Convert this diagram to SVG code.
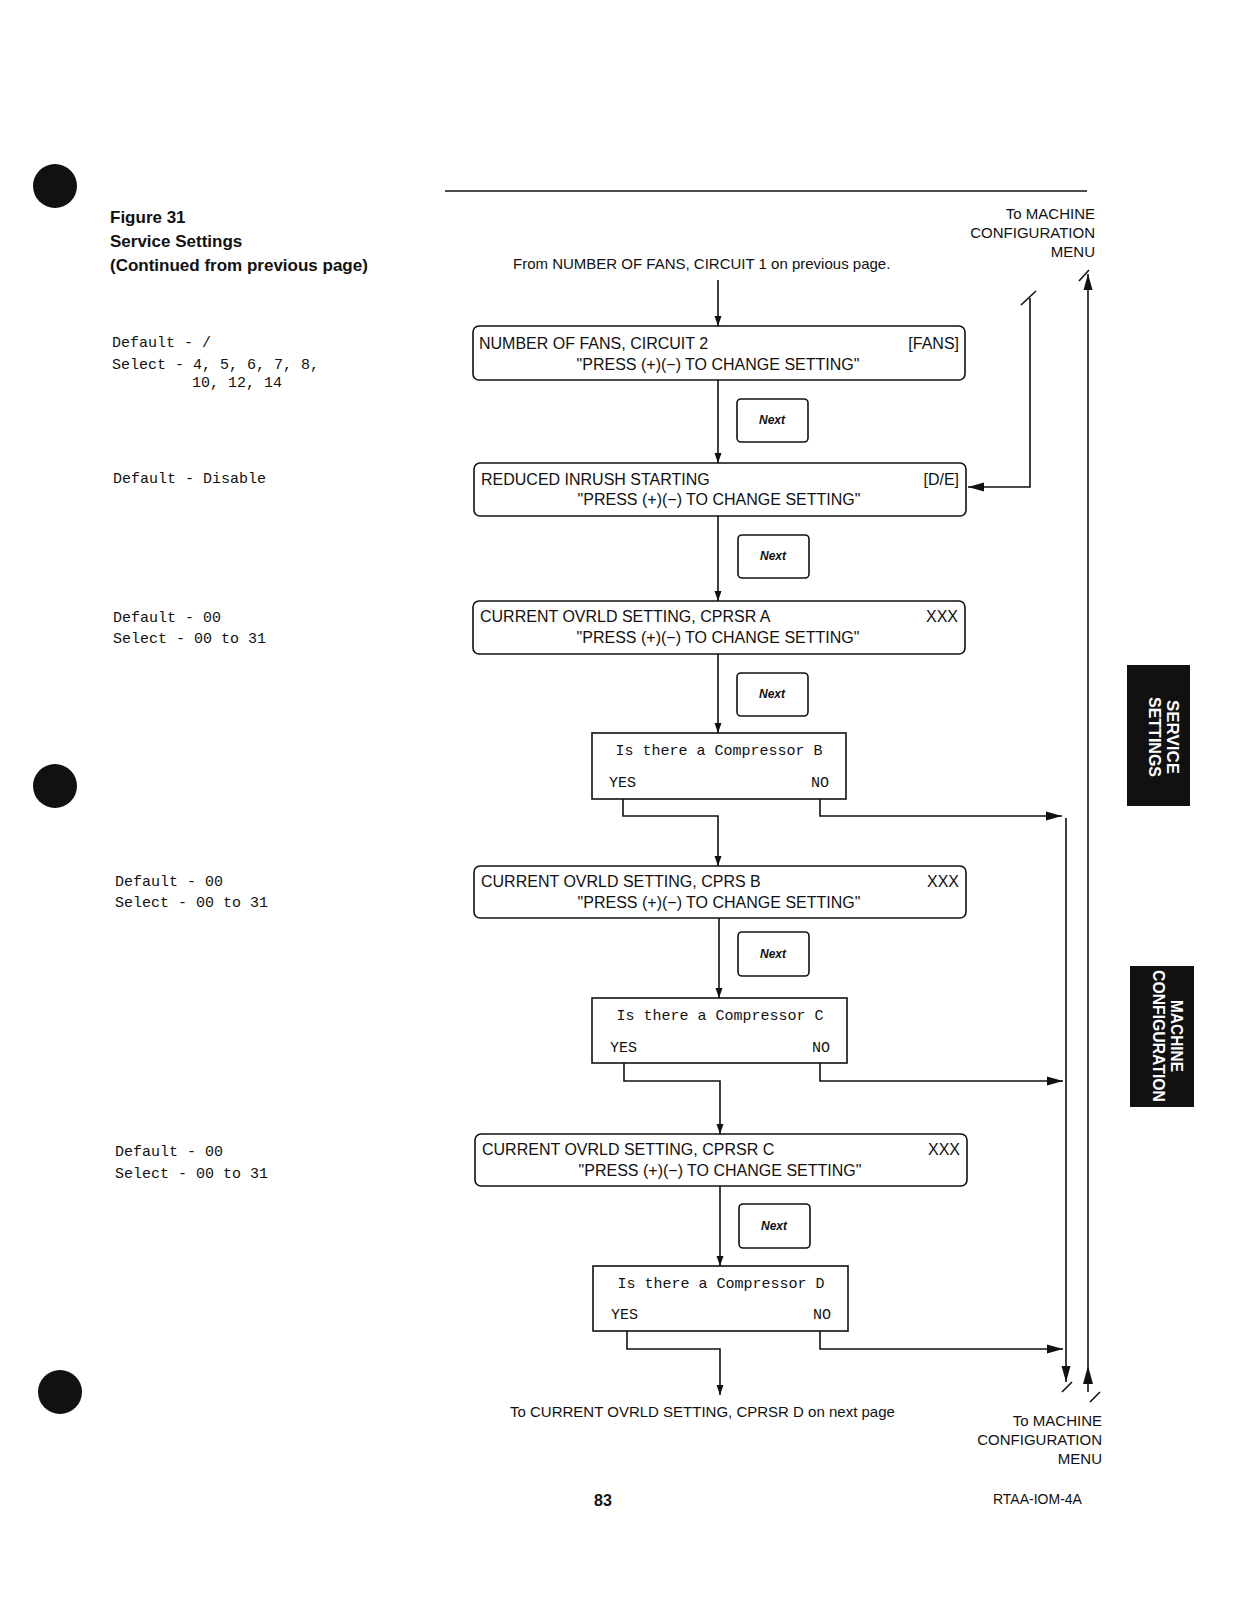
<svg xmlns="http://www.w3.org/2000/svg" width="1251" height="1598" viewBox="0 0 1251 1598">
<style>
.sans{font-family:"Liberation Sans",Arial,sans-serif;fill:#111}
.mono{font-family:"Liberation Mono","DejaVu Sans Mono",monospace;fill:#111;font-size:15px}
.box{fill:#fff;stroke:#111;stroke-width:1.6}
.ln{fill:none;stroke:#111;stroke-width:1.6}
.bt{font-family:"Liberation Sans",Arial,sans-serif;fill:#111;font-size:16px}
.nx{font-family:"Liberation Sans",Arial,sans-serif;font-weight:bold;font-style:italic;font-size:12px;fill:#111}
.tab{font-family:"Liberation Sans Narrow","Liberation Sans",Arial,sans-serif;font-weight:bold;font-size:17px;fill:#fff}
</style>
<defs>
<marker id="ah" viewBox="0 0 10 10" refX="10" refY="5" markerWidth="10" markerHeight="10" markerUnits="userSpaceOnUse" orient="auto">
<path d="M0,1.5 L10,5 L0,8.5 z" fill="#111"/>
</marker>
<marker id="ahb" viewBox="0 0 16 10" refX="16" refY="5" markerWidth="16" markerHeight="10" markerUnits="userSpaceOnUse" orient="auto">
<path d="M0,0.5 L16,5 L0,9.5 z" fill="#111"/>
</marker>
</defs>
<rect width="1251" height="1598" fill="#fff"/>

<g id="page">
<circle cx="55" cy="186" r="22" fill="#111"/>
<circle cx="55" cy="786" r="22" fill="#111"/>
<circle cx="60" cy="1392" r="22" fill="#111"/>
<line x1="445" y1="191" x2="1087" y2="191" stroke="#111" stroke-width="1.6"/>
<text class="sans" x="110" y="223" font-size="17" font-weight="bold">Figure 31</text>
<text class="sans" x="110" y="247" font-size="17" font-weight="bold">Service Settings</text>
<text class="sans" x="110" y="271" font-size="17" font-weight="bold">(Continued from previous page)</text>
<text class="sans" x="603" y="1506" font-size="16" font-weight="bold" text-anchor="middle">83</text>
<text class="sans" x="993" y="1504" font-size="14">RTAA-IOM-4A</text>
</g>

<g id="notes">
<text class="mono" x="112" y="347">Default - /</text>
<text class="mono" x="112" y="369">Select - 4, 5, 6, 7, 8,</text>
<text class="mono" x="192" y="387">10, 12, 14</text>
<text class="mono" x="113" y="483">Default - Disable</text>
<text class="mono" x="113" y="622">Default - 00</text>
<text class="mono" x="113" y="643">Select - 00 to 31</text>
<text class="mono" x="115" y="886">Default - 00</text>
<text class="mono" x="115" y="907">Select - 00 to 31</text>
<text class="mono" x="115" y="1156">Default - 00</text>
<text class="mono" x="115" y="1178">Select - 00 to 31</text>
</g>

<g id="tabs">
<rect x="1127" y="665" width="63" height="141" fill="#111"/>
<text class="tab" transform="translate(1167,737) rotate(90)" text-anchor="middle" textLength="74" lengthAdjust="spacingAndGlyphs">SERVICE</text>
<text class="tab" transform="translate(1149,737) rotate(90)" text-anchor="middle" textLength="80" lengthAdjust="spacingAndGlyphs">SETTINGS</text>
<rect x="1130" y="966" width="64" height="141" fill="#111"/>
<text class="tab" transform="translate(1171,1036) rotate(90)" text-anchor="middle" textLength="72" lengthAdjust="spacingAndGlyphs">MACHINE</text>
<text class="tab" transform="translate(1153,1036) rotate(90)" text-anchor="middle" textLength="132" lengthAdjust="spacingAndGlyphs">CONFIGURATION</text>
</g>

<g id="labels">
<text class="sans" x="1095" y="219" font-size="15" text-anchor="end">To MACHINE</text>
<text class="sans" x="1095" y="238" font-size="15" text-anchor="end">CONFIGURATION</text>
<text class="sans" x="1095" y="257" font-size="15" text-anchor="end">MENU</text>
<text class="sans" x="513" y="269" font-size="15">From NUMBER OF FANS, CIRCUIT 1 on previous page.</text>
<text class="sans" x="510" y="1417" font-size="15">To CURRENT OVRLD SETTING, CPRSR D on next page</text>
<text class="sans" x="1102" y="1426" font-size="15" text-anchor="end">To MACHINE</text>
<text class="sans" x="1102" y="1445" font-size="15" text-anchor="end">CONFIGURATION</text>
<text class="sans" x="1102" y="1464" font-size="15" text-anchor="end">MENU</text>
</g>

<g id="connectors">
<line class="ln" x1="718" y1="280" x2="718" y2="326" marker-end="url(#ah)"/>
<line class="ln" x1="718" y1="380" x2="718" y2="463" marker-end="url(#ah)"/>
<line class="ln" x1="718" y1="516" x2="718" y2="601" marker-end="url(#ah)"/>
<line class="ln" x1="718" y1="654" x2="718" y2="733" marker-end="url(#ah)"/>
<polyline class="ln" points="623,799 623,816 718,816 718,866" marker-end="url(#ah)"/>
<polyline class="ln" points="820,799 820,816 1062,816" marker-end="url(#ahb)"/>
<line class="ln" x1="719" y1="918" x2="719" y2="998" marker-end="url(#ah)"/>
<polyline class="ln" points="624,1063 624,1081 720,1081 720,1134" marker-end="url(#ah)"/>
<polyline class="ln" points="820,1063 820,1081 1063,1081" marker-end="url(#ahb)"/>
<line class="ln" x1="720" y1="1186" x2="720" y2="1266" marker-end="url(#ah)"/>
<polyline class="ln" points="627,1331 627,1349 720,1349 720,1395" marker-end="url(#ah)"/>
<polyline class="ln" points="820,1331 820,1349 1063,1349" marker-end="url(#ahb)"/>
<line class="ln" x1="1066" y1="818" x2="1066" y2="1382" marker-end="url(#ahb)"/>
<line class="ln" x1="1088" y1="1392" x2="1088" y2="274" marker-end="url(#ahb)"/>
<path d="M1088,1366 L1083,1384 L1093,1384 z" fill="#111"/>
<polyline class="ln" points="1030,298 1030,487 968,487" marker-end="url(#ahb)"/>
<line class="ln" x1="1021" y1="305" x2="1036" y2="291" stroke-width="1.2"/>
<line class="ln" x1="1079" y1="281" x2="1089" y2="270" stroke-width="1.2"/>
<line class="ln" x1="1062" y1="1392" x2="1072" y2="1382" stroke-width="1.2"/>
<line class="ln" x1="1090" y1="1402" x2="1100" y2="1392" stroke-width="1.2"/>
</g>

<g id="n1">
<rect class="box" x="473" y="326" width="492" height="54" rx="6"/>
<text class="bt" x="479" y="349">NUMBER OF FANS, CIRCUIT 2</text>
<text class="bt" x="959" y="349" text-anchor="end">[FANS]</text>
<text class="bt" x="718" y="370" text-anchor="middle">"PRESS (+)(−) TO CHANGE SETTING"</text>
</g>
<g id="next1"><rect class="box" x="737" y="399" width="71" height="43" rx="4"/><text class="nx" x="772" y="424" text-anchor="middle">Next</text></g>

<g id="n2">
<rect class="box" x="474" y="463" width="492" height="53" rx="6"/>
<text class="bt" x="481" y="485">REDUCED INRUSH STARTING</text>
<text class="bt" x="959" y="485" text-anchor="end">[D/E]</text>
<text class="bt" x="719" y="505" text-anchor="middle">"PRESS (+)(−) TO CHANGE SETTING"</text>
</g>
<g id="next2"><rect class="box" x="738" y="535" width="71" height="43" rx="4"/><text class="nx" x="773" y="560" text-anchor="middle">Next</text></g>

<g id="n3">
<rect class="box" x="473" y="601" width="492" height="53" rx="6"/>
<text class="bt" x="480" y="622">CURRENT OVRLD SETTING, CPRSR A</text>
<text class="bt" x="958" y="622" text-anchor="end">XXX</text>
<text class="bt" x="718" y="643" text-anchor="middle">"PRESS (+)(−) TO CHANGE SETTING"</text>
</g>
<g id="next3"><rect class="box" x="737" y="673" width="71" height="43" rx="4"/><text class="nx" x="772" y="698" text-anchor="middle">Next</text></g>

<g id="d1">
<rect class="box" x="592" y="733" width="254" height="66"/>
<text class="mono" x="719" y="755" text-anchor="middle">Is there a Compressor B</text>
<text class="mono" x="609" y="787">YES</text>
<text class="mono" x="829" y="787" text-anchor="end">NO</text>
</g>

<g id="n4">
<rect class="box" x="474" y="866" width="492" height="52" rx="6"/>
<text class="bt" x="481" y="887">CURRENT OVRLD SETTING, CPRS B</text>
<text class="bt" x="959" y="887" text-anchor="end">XXX</text>
<text class="bt" x="719" y="908" text-anchor="middle">"PRESS (+)(−) TO CHANGE SETTING"</text>
</g>
<g id="next4"><rect class="box" x="738" y="932" width="71" height="44" rx="4"/><text class="nx" x="773" y="958" text-anchor="middle">Next</text></g>

<g id="d2">
<rect class="box" x="592" y="998" width="255" height="65"/>
<text class="mono" x="720" y="1020" text-anchor="middle">Is there a Compressor C</text>
<text class="mono" x="610" y="1052">YES</text>
<text class="mono" x="830" y="1052" text-anchor="end">NO</text>
</g>

<g id="n5">
<rect class="box" x="475" y="1134" width="492" height="52" rx="6"/>
<text class="bt" x="482" y="1155">CURRENT OVRLD SETTING, CPRSR C</text>
<text class="bt" x="960" y="1155" text-anchor="end">XXX</text>
<text class="bt" x="720" y="1176" text-anchor="middle">"PRESS (+)(−) TO CHANGE SETTING"</text>
</g>
<g id="next5"><rect class="box" x="739" y="1204" width="71" height="44" rx="4"/><text class="nx" x="774" y="1230" text-anchor="middle">Next</text></g>

<g id="d3">
<rect class="box" x="593" y="1266" width="255" height="65"/>
<text class="mono" x="721" y="1288" text-anchor="middle">Is there a Compressor D</text>
<text class="mono" x="611" y="1319">YES</text>
<text class="mono" x="831" y="1319" text-anchor="end">NO</text>
</g>
</svg>
